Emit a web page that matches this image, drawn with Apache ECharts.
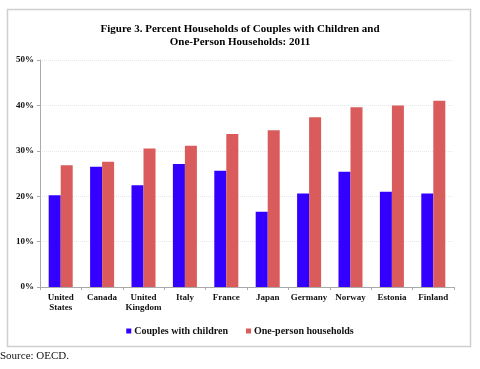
<!DOCTYPE html>
<html><head><meta charset="utf-8">
<script src="https://cdn.jsdelivr.net/npm/echarts@6/dist/echarts.min.js"></script>
<style>html,body{margin:0;padding:0;background:#fff;}#c{width:480px;height:369px;}</style>
</head><body><div id="c"></div>
<script>
const categories = ['United\nStates','Canada','United\nKingdom','Italy','France','Japan','Germany','Norway','Estonia','Finland'];
const couplesWithChildren = [20.2, 26.5, 22.4, 27.1, 25.6, 16.6, 20.6, 25.4, 21.0, 20.6];
const onePerson = [26.8, 27.6, 30.5, 31.1, 33.7, 34.5, 37.4, 39.6, 40.0, 41.0];
const yTicks = [0, 10, 20, 30, 40, 50];
const seriesNames = ['Couples with children', 'One-person households'];
const titleText = 'Figure 3. Percent Households of Couples with Children and\nOne-Person Households: 2011';
const sourceText = 'Source: OECD.';

const serif = '"Liberation Serif", "Times New Roman", serif';
const chart = echarts.init(document.getElementById('c'), null, {renderer: 'canvas'});
chart.setOption({
  backgroundColor: '#fff',
  animation: false,
  title: {
    text: titleText, left: 'center', top: 17,
    textStyle: {fontFamily: serif, fontSize: 11, fontWeight: 'bold', color: '#000', lineHeight: 13.5}
  },
  graphic: [
    {type: 'rect', shape: {x: 7.5, y: 9.5, width: 463, height: 337}, style: {fill: 'none', stroke: '#cfcfcf', lineWidth: 1.5}, z: -1},
    {type: 'text', left: 0, top: 351, style: {text: sourceText, font: '11px ' + serif, fill: '#111'}}
  ],
  legend: {
    bottom: 28, left: 'center', itemWidth: 5, itemHeight: 5, itemGap: 18,
    icon: 'rect',
    textStyle: {fontFamily: serif, fontSize: 10, fontWeight: 'bold', color: '#111', padding: [0, 0, 0, -2]},
    data: seriesNames
  },
  grid: {left: 40, right: 26, top: 60, bottom: 82},
  xAxis: {
    type: 'category', data: categories,
    axisLine: {lineStyle: {color: '#aaa'}},
    axisTick: {show: true, length: 3, lineStyle: {color: '#aaa'}},
    axisLabel: {fontFamily: serif, fontSize: 9, fontWeight: 'bold', color: '#111', lineHeight: 10, margin: 6, interval: 0}
  },
  yAxis: {
    type: 'value', min: 0, max: 50, interval: 10,
    axisLine: {show: true, lineStyle: {color: '#aaa'}},
    axisTick: {show: true, length: 3, lineStyle: {color: '#aaa'}},
    splitLine: {lineStyle: {color: '#e8e8e8', type: 'dotted'}},
    axisLabel: {fontFamily: serif, fontSize: 9, fontWeight: 'bold', color: '#111', margin: 6,
      formatter: v => yTicks.includes(v) ? v + '%' : ''}
  },
  series: [
    {name: seriesNames[0], type: 'bar', data: couplesWithChildren, barGap: '0%', barCategoryGap: '42%',
     itemStyle: {color: '#3300ff'}},
    {name: seriesNames[1], type: 'bar', data: onePerson, barGap: '0%', barCategoryGap: '42%',
     itemStyle: {color: '#d95b5b'}}
  ]
});
</script></body></html>
